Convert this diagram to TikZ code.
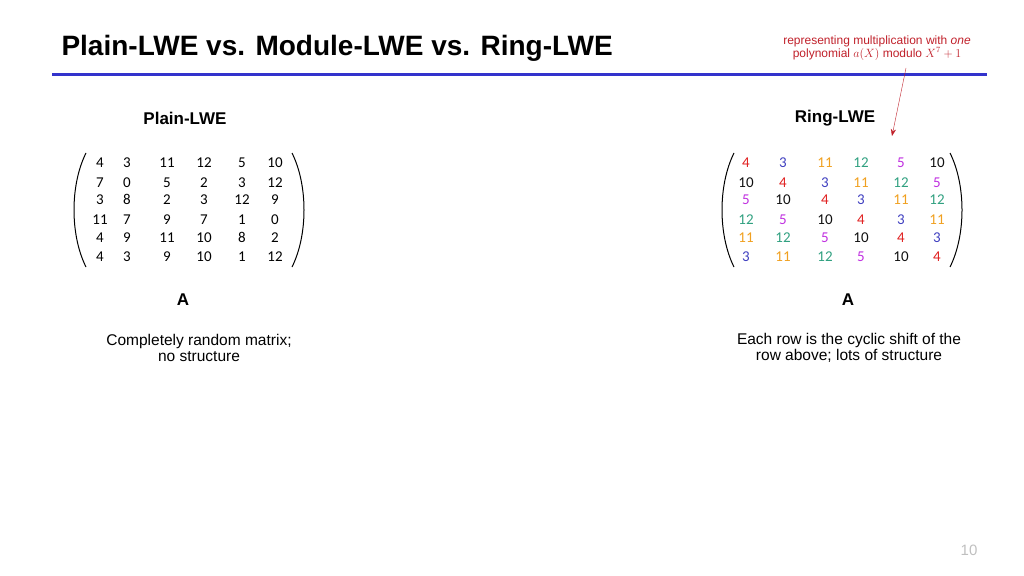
\documentclass[tikz,border=0pt]{standalone}
\usepackage{fontspec}
\setmainfont{Liberation Sans}
\newfontfamily\numfont{Carlito}
\usetikzlibrary{arrows.meta}
\definecolor{ttlblue}{HTML}{3333CC}
\definecolor{annred}{HTML}{C0202A}
\definecolor{cR}{HTML}{E02020}
\definecolor{cB}{HTML}{4040C0}
\definecolor{cO}{HTML}{F0A020}
\definecolor{cG}{HTML}{30A080}
\definecolor{cM}{HTML}{C030E0}
\definecolor{cK}{HTML}{101010}
\tikzset{
  entry/.style={font=\numfont\fontsize{15}{15}\selectfont, inner sep=0pt, anchor=base},
  heading/.style={font=\bfseries\fontsize{17}{17}\selectfont},
  caption/.style={font=\fontsize{15.5}{15.5}\selectfont},
  paren/.style={line width=1pt},
}
\begin{document}
\begin{tikzpicture}[x=1pt,y=-1pt]
  % page
  \useasboundingbox (0,0) rectangle (1024,575);
  % title and rule
  \node[anchor=west, font=\bfseries\fontsize{28}{28}\selectfont] (title) at (58,48) {Plain-LWE vs. Module-LWE vs. Ring-LWE};
  \draw[ttlblue, line width=3pt] (52,75) -- (987,75);
  % annotation
  \node[annred, font=\fontsize{12}{12}\selectfont, align=center] (note) at (877,48)
    {representing multiplication with \textit{one}\\polynomial $a(X)$ modulo $X^7+1$};
  \coordinate (tip) at (892,136);
  \draw[annred, -{Stealth[length=7pt]}] (906,68) -- (tip);
  % headings
  \node[heading] (plainhd) at (185,118) {Plain-LWE};
  \node[heading] (ringhd) at (835,118) {Ring-LWE};
  % plain matrix
  \foreach \row [count=\i] in {{4,3,11,12,5,10},{7,0,5,2,3,12},{3,8,2,3,12,9},{11,7,9,7,1,0},{4,9,11,10,8,2},{4,3,9,10,1,12}}{
    \foreach \v [count=\j] in \row {
      \pgfmathsetmacro{\xx}{{100,127,167,204,242,275}[\j-1]}
      \pgfmathsetmacro{\yy}{{167,187,204,224,242,261}[\i-1]}
      \node[entry] (p\i\j) at (\xx,\yy) {\v};
    }
  }
  \draw[paren] (86,153) .. controls (70,185) and (70,235) .. (86,267);
  \draw[paren] (292,153) .. controls (308,185) and (308,235) .. (292,267);
  % ring matrix
  \foreach \row [count=\i] in {{4/cR,3/cB,11/cO,12/cG,5/cM,10/cK},{10/cK,4/cR,3/cB,11/cO,12/cG,5/cM},{5/cM,10/cK,4/cR,3/cB,11/cO,12/cG},{12/cG,5/cM,10/cK,4/cR,3/cB,11/cO},{11/cO,12/cG,5/cM,10/cK,4/cR,3/cB},{3/cB,11/cO,12/cG,5/cM,10/cK,4/cR}}{
    \foreach \v/\c [count=\j] in \row {
      \pgfmathsetmacro{\xx}{{746,783,825,861,901,937}[\j-1]}
      \pgfmathsetmacro{\yy}{{167,187,204,224,242,261}[\i-1]}
      \node[entry, text=\c] (r\i\j) at (\xx,\yy) {\v};
    }
  }
  \draw[paren] (734,153) .. controls (718,185) and (718,235) .. (734,267);
  \draw[paren] (950,153) .. controls (966,185) and (966,235) .. (950,267);
  % labels
  \node[font=\fontsize{17}{17}\selectfont] (plainA) at (183,300) {$\mathbf{A}$};
  \node[font=\fontsize{17}{17}\selectfont] (ringA) at (848,300) {$\mathbf{A}$};
  \node[caption, align=center] (plaincap) at (199,348) {Completely random matrix;\\no structure};
  \node[caption, align=center] (ringcap) at (849,348) {Each row is the cyclic shift of the\\row above; lots of structure};
  \node[gray!50, font=\fontsize{15}{15}\selectfont] (pageno) at (969,550) {10};
\end{tikzpicture}
\end{document}
